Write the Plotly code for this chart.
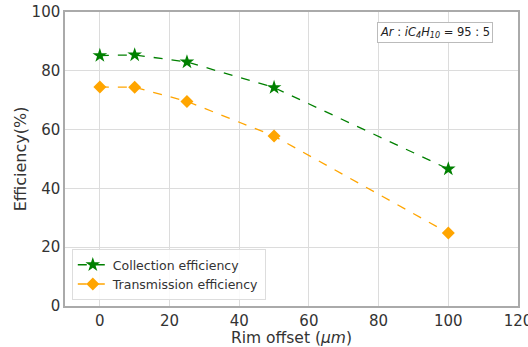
import plotly.graph_objects as go

rim_offset = [0, 10, 25, 50, 100]
collection_eff = [85.2, 85.4, 83.0, 74.3, 46.6]
transmission_eff = [74.5, 74.4, 69.6, 57.8, 24.8]

fig = go.Figure()
fig.add_trace(go.Scatter(
    x=rim_offset, y=collection_eff, mode="lines+markers",
    name="Collection efficiency",
    line=dict(color="green", dash="dash", width=1.3),
    marker=dict(symbol="star", size=11, color="green"),
))
fig.add_trace(go.Scatter(
    x=rim_offset, y=transmission_eff, mode="lines+markers",
    name="Transmission efficiency",
    line=dict(color="orange", dash="dash", width=1.3),
    marker=dict(symbol="diamond", size=10, color="orange"),
))

axis_common = dict(
    showgrid=True, gridcolor="#dcdcdc", gridwidth=1,
    showline=True, linecolor="#aaaaaa", linewidth=1.5, mirror=True,
    ticks="", zeroline=False, automargin=False,
    tickfont=dict(family="DejaVu Sans", size=15, color="#333"),
)
fig.update_xaxes(range=[-10, 120], tickvals=[0, 20, 40, 60, 80, 100, 120],
                 ticklabeloverflow="allow",
                 title=dict(text="Rim offset (<i>μm</i>)", font=dict(family="DejaVu Sans", size=15.5, color="#333"), standoff=2),
                 **axis_common)
fig.update_yaxes(range=[0, 100], dtick=20,
                 title=dict(text="Efficiency(%)", font=dict(family="DejaVu Sans", size=16, color="#333"), standoff=1),
                 **axis_common)

fig.add_annotation(
    x=0.945, y=0.93, xref="paper", yref="paper", xanchor="right", yanchor="middle",
    text="<i>Ar</i> : <i>iC<sub>4</sub>H<sub>10</sub></i> = 95 : 5",
    showarrow=False, font=dict(family="DejaVu Sans", size=11.5, color="#222"),
    bordercolor="#bbbbbb", borderwidth=1, borderpad=2, bgcolor="white",
)

fig.update_layout(
    width=528, height=347,
    margin=dict(l=65, r=10, t=12, b=41),
    paper_bgcolor="white", plot_bgcolor="white",
    legend=dict(x=0.015, y=0.02, xanchor="left", yanchor="bottom",
                bgcolor="rgba(255,255,255,0.85)", bordercolor="#dddddd", borderwidth=1,
                font=dict(family="DejaVu Sans", size=12.5, color="#333"),
                tracegroupgap=0, itemwidth=30),
    showlegend=True,
)

fig.write_html("out.html")
